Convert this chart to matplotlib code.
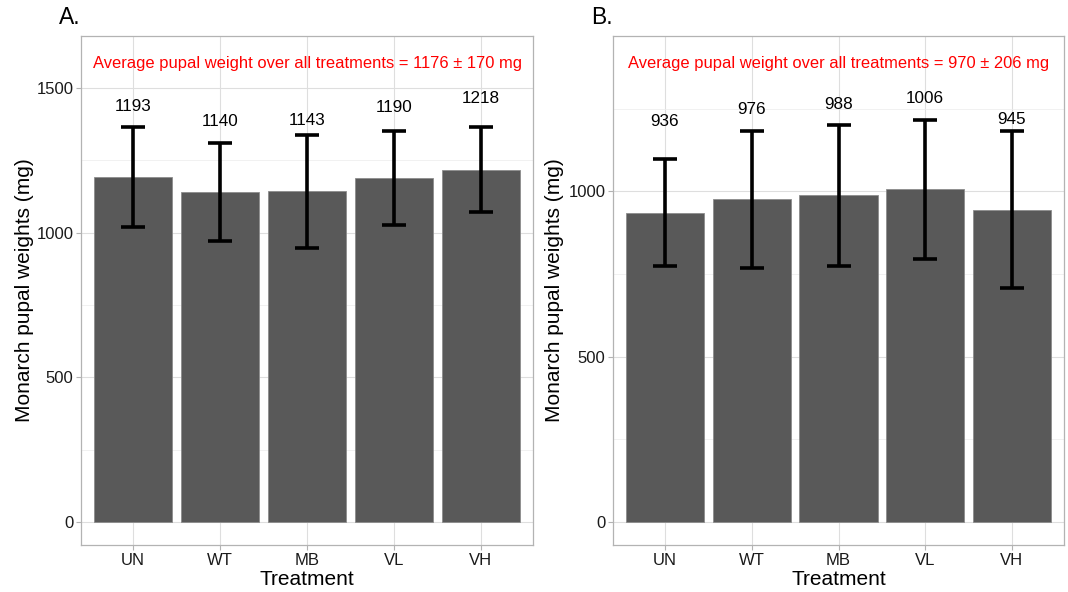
import matplotlib
matplotlib.use("Agg")
import matplotlib.pyplot as plt
from matplotlib.ticker import MultipleLocator

plt.rcParams['font.family'] = ['Liberation Sans', 'DejaVu Sans']

treatments = ["UN", "WT", "MB", "VL", "VH"]

means_a = [1193, 1140, 1143, 1190, 1218]
sd_a = [172, 169, 195, 162, 146]
labely_a = [1437, 1386, 1389, 1434, 1463]
note_a = "Average pupal weight over all treatments = 1176 \u00b1 170 mg"
note_y_a = 1586

means_b = [936, 976, 988, 1006, 945]
sd_b = [162, 207, 214, 210, 237]
labely_b = [1210, 1249, 1262, 1280, 1217]
note_b = "Average pupal weight over all treatments = 970 \u00b1 206 mg"
note_y_b = 1388

W, H = 1068, 592
fig = plt.figure(figsize=(W / 100, H / 100), dpi=100)

def px_axes(x0, y0, x1, y1):
    return fig.add_axes([x0 / W, 1 - y1 / H, (x1 - x0) / W, (y1 - y0) / H])

def panel(ax, means, sds, labely, note, note_y, ylim, yticks, tag, ylab_x):
    x = list(range(1, len(treatments) + 1))
    ax.set_axisbelow(True)
    ax.bar(x, means, width=0.9, color="#595959", edgecolor="#8c8c8c", linewidth=0.6, zorder=2)
    ax.errorbar(x, means, yerr=sds, fmt="none", ecolor="black", elinewidth=2.6,
                capsize=8.5, capthick=2.6, zorder=3)
    for xi, m, ly in zip(x, means, labely):
        ax.text(xi, ly, str(m), ha="center", va="center", fontsize=12.3, color="black", zorder=4)
    ax.text(3, note_y, note, ha="center", va="center", fontsize=11.9, color="#FF0000", zorder=4)
    ax.set_xlim(0.4, 5.6)
    ax.set_ylim(*ylim)
    ax.set_xticks(x)
    ax.set_xticklabels(treatments)
    ax.set_yticks(yticks)
    ax.yaxis.set_minor_locator(MultipleLocator(250))
    ax.grid(True, which="major", color="#DEDEDE", linewidth=0.8)
    ax.grid(True, which="minor", axis="y", color="#EBEBEB", linewidth=0.5)
    ax.tick_params(which="major", length=3.5, width=0.8, color="#B3B3B3",
                   labelsize=12, labelcolor="#1a1a1a", pad=2)
    ax.tick_params(which="minor", length=0)
    for s in ax.spines.values():
        s.set_color("#B3B3B3")
        s.set_linewidth(0.9)
    ax.set_xlabel("Treatment", fontsize=15, color="black", labelpad=2)
    ax.set_ylabel("Monarch pupal weights (mg)", fontsize=15, color="black")
    ax.yaxis.set_label_coords(ylab_x, 0.5)
    fig.text(ax.get_position().x0 - 22 / W, 1 - 18 / H, tag, fontsize=16.5,
             ha="left", va="center", color="black")

ax_a = px_axes(81, 36, 533, 545)
panel(ax_a, means_a, sd_a, labely_a, note_a, note_y_a, (-79.5, 1680),
      [0, 500, 1000, 1500], "A.", -0.104)

ax_b = px_axes(613, 36, 1064, 545)
panel(ax_b, means_b, sd_b, labely_b, note_b, note_y_b, (-69.5, 1470),
      [0, 500, 1000], "B.", -0.109)

fig.savefig("out.png", dpi=100)
